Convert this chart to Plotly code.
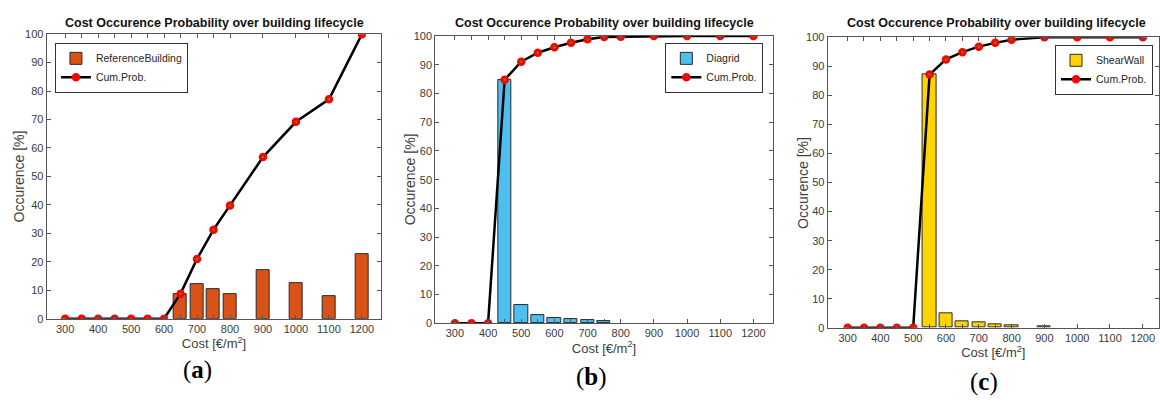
import plotly.graph_objects as go

# ---- data ----
cum_x = [300, 350, 400, 450, 500, 550, 600, 650, 700, 750, 800, 900, 1000, 1100, 1200]

ref_bar_x = [650, 700, 750, 800, 900, 1000, 1100, 1200]
ref_bar_y = [8.8, 12.2, 10.3, 8.5, 17.0, 12.4, 7.9, 22.8]
ref_cum = [0, 0, 0, 0, 0, 0, 0, 8.8, 21.0, 31.3, 39.8, 56.8, 69.2, 77.1, 100]

dia_bar_x = [450, 500, 550, 600, 650, 700, 750]
dia_bar_y = [84.8, 6.3, 3.0, 1.8, 1.6, 1.2, 0.9]
dia_cum = [0, 0, 0, 84.8, 91.1, 94.2, 96.1, 97.7, 98.9, 99.7, 99.8, 100, 100, 100, 100]

sw_bar_x = [550, 600, 650, 700, 750, 800, 900]
sw_bar_y = [87.2, 5.1, 2.4, 1.8, 1.2, 0.9, 0.6]
sw_cum = [0, 0, 0, 0, 0, 87.2, 92.4, 94.9, 96.8, 98.1, 99.2, 100, 100, 100, 100]

tick_vals = cum_x
tick_text = ["300", "", "400", "", "500", "", "600", "", "700", "", "800", "900", "1000", "1100", "1200"]
y_ticks = list(range(0, 101, 10))

title_text = "Cost Occurence Probability over building lifecycle"
W, H = 1160, 403

panels = [
    dict(name="ReferenceBuilding", bx=ref_bar_x, by=ref_bar_y, cum=ref_cum, color="#D95319",
         xpx=(46.7, 381.7), ypx=(29, 322.3), xr=[244, 1259], legend="legend",
         leg=dict(x=55, y=38, xanchor="left"), ylab_x=19, cap="a", cap_xy=(198, 375),
         title_x=215),
    dict(name="Diagrid", bx=dia_bar_x, by=dia_bar_y, cum=dia_cum, color="#4DBEEE",
         xpx=(435.7, 773.3), ypx=(31, 327), xr=[241, 1258], legend="legend2",
         leg=dict(x=764, y=38, xanchor="right"), ylab_x=410, cap="b", cap_xy=(592, 382),
         title_x=605),
    dict(name="ShearWall", bx=sw_bar_x, by=sw_bar_y, cum=sw_cum, color="#FFD400",
         xpx=(828.3, 1160), ypx=(32.3, 331.7), xr=[239, 1249.5], legend="legend3",
         leg=dict(x=1154, y=40, xanchor="right"), ylab_x=803, cap="c", cap_xy=(985, 388),
         title_x=997),
]

fig = go.Figure()
layout = dict(width=W, height=H, margin=dict(l=0, r=0, t=0, b=0),
              paper_bgcolor="white", plot_bgcolor="white",
              font=dict(family="Liberation Sans, Arial, sans-serif", color="#262626"))
annotations = []
axis_color = "#555555"
tickfont = dict(size=11, color="#3a3a3a", family="Liberation Sans, Arial, sans-serif")

for i, p in enumerate(panels):
    n = "" if i == 0 else str(i + 1)
    xa, ya = "x" + n, "y" + n
    fig.add_trace(go.Bar(x=p["bx"], y=p["by"], width=40, name=p["name"],
                         marker=dict(color=p["color"], line=dict(color="#2a2a2a", width=1)),
                         xaxis=xa, yaxis=ya, legend=p["legend"]))
    fig.add_trace(go.Scatter(x=cum_x, y=p["cum"], mode="lines+markers", name="Cum.Prob.",
                             line=dict(color="black", width=2.5),
                             marker=dict(symbol="circle", size=7, color="#ff0000",
                                         line=dict(color="#ff0000", width=1.5)),
                             xaxis=xa, yaxis=ya, legend=p["legend"]))
    # small green centre of the markers
    fig.add_trace(go.Scatter(x=cum_x, y=p["cum"], mode="markers", showlegend=False,
                             marker=dict(symbol="circle", size=2.5, color="#22aa22"),
                             hoverinfo="skip", xaxis=xa, yaxis=ya))
    x0, x1 = p["xpx"]
    y0, y1 = p["ypx"]
    layout["xaxis" + n] = dict(domain=[x0 / W, x1 / W], range=p["xr"], anchor=ya,
                               tickmode="array", tickvals=tick_vals, ticktext=tick_text,
                               ticks="inside", ticklen=4, tickcolor=axis_color,
                               showline=True, linecolor=axis_color, linewidth=1, mirror="allticks",
                               showgrid=False, zeroline=False, tickfont=tickfont,
                               title=dict(text="Cost [€/m<sup>2</sup>]", standoff=1,
                                          font=dict(size=13, color="#404040")))
    layout["yaxis" + n] = dict(domain=[1 - y1 / H, 1 - y0 / H], range=[0, 100], anchor=xa,
                               tickmode="array", tickvals=y_ticks,
                               ticks="inside", ticklen=4, tickcolor=axis_color,
                               showline=True, linecolor=axis_color, linewidth=1, mirror="allticks",
                               showgrid=False, zeroline=False, tickfont=tickfont)
    layout[p["legend"]] = dict(x=p["leg"]["x"] / W, y=1 - p["leg"]["y"] / H,
                               xanchor=p["leg"]["xanchor"], yanchor="top",
                               bgcolor="white", bordercolor="#333333", borderwidth=1,
                               font=dict(size=10.5, color="#262626"),
                               tracegroupgap=0, itemwidth=30)
    # title
    annotations.append(dict(text="<b>" + title_text + "</b>", x=p["title_x"] / W,
                            y=1 - 18 / H, xref="paper", yref="paper", showarrow=False,
                            xanchor="center", yanchor="middle",
                            font=dict(size=12.5, color="#111111")))
    # y label
    annotations.append(dict(text="Occurence [%]", x=p["ylab_x"] / W, y=1 - ((y0 + y1) / 2) / H,
                            xref="paper", yref="paper", showarrow=False, textangle=-90,
                            xanchor="center", yanchor="middle",
                            font=dict(size=14, color="#404040")))
    # caption
    annotations.append(dict(text="(<b>" + p["cap"] + "</b>)", x=p["cap_xy"][0] / W,
                            y=1 - p["cap_xy"][1] / H, xref="paper", yref="paper",
                            showarrow=False, xanchor="center", yanchor="middle",
                            font=dict(size=25, color="#000000",
                                      family="Liberation Serif, DejaVu Serif, serif")))

layout["annotations"] = annotations
layout["showlegend"] = True
layout["bargap"] = 0
fig.update_layout(**layout)
fig.write_html("out.html")
